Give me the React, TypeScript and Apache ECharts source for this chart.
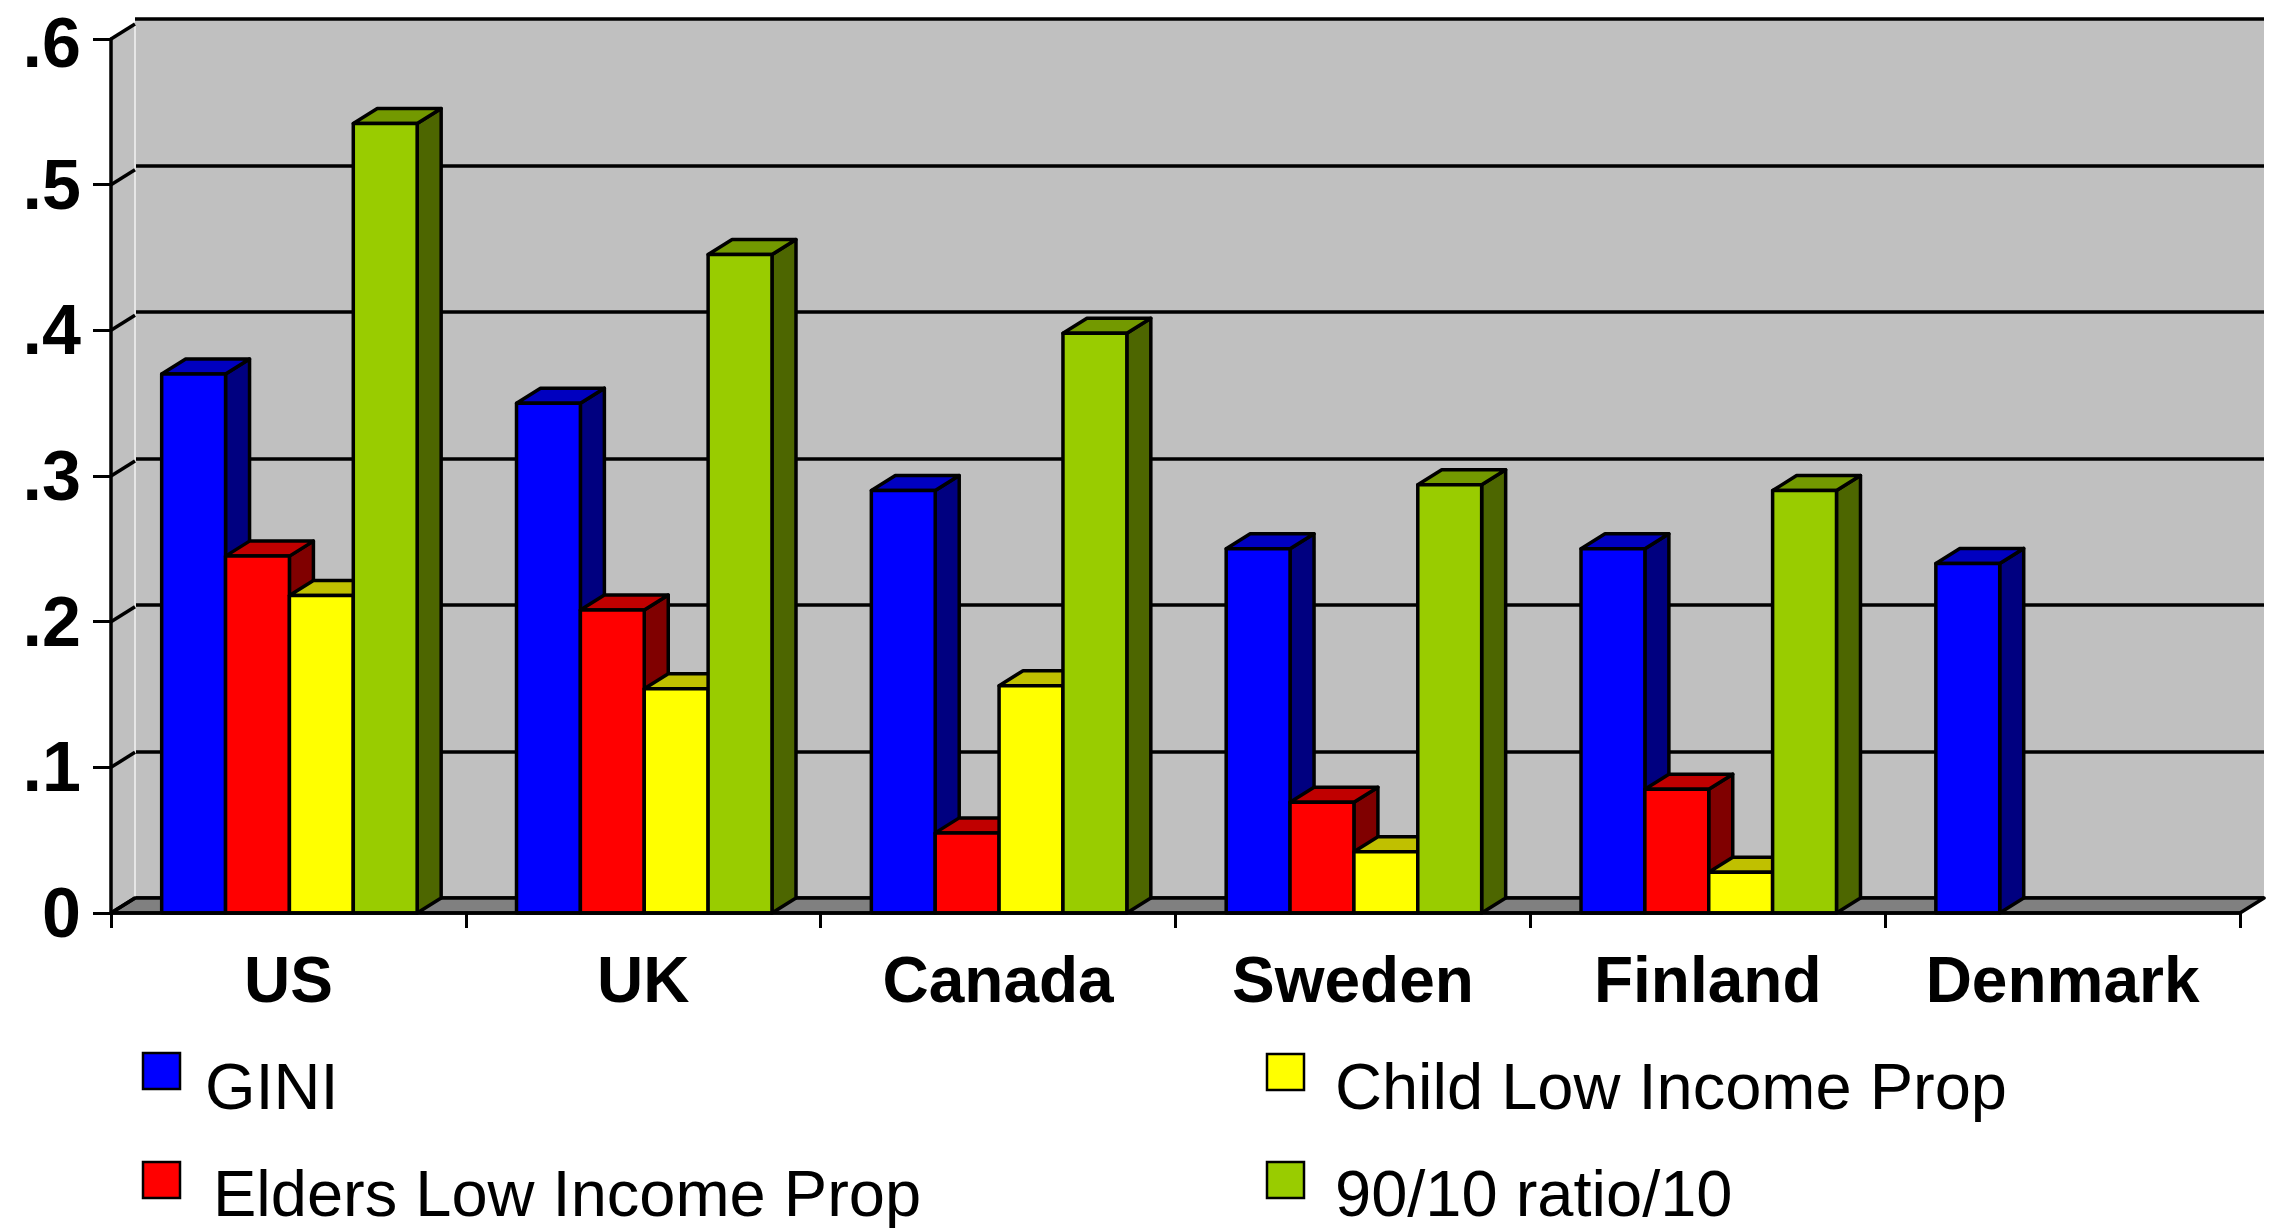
import React, { useEffect, useRef } from "react";
import * as echarts from "echarts";

// Countries on the category axis
const countries = ["US", "UK", "Canada", "Sweden", "Finland", "Denmark"];

// Series values (null = not available)
const gini = [0.37, 0.35, 0.29, 0.25, 0.25, 0.24];
const eldersLowIncome = [0.245, 0.208, 0.055, 0.076, 0.085, null];
const childLowIncome = [0.218, 0.154, 0.156, 0.042, 0.028, null];
const ratio9010 = [0.542, 0.452, 0.398, 0.294, 0.29, null];

const seriesNames = [
  "GINI",
  "Elders Low Income Prop",
  "Child Low Income Prop",
  "90/10 ratio/10",
];
const seriesValues = [gini, eldersLowIncome, childLowIncome, ratio9010];

// Value axis ticks and their labels
const yTicks = [0, 0.1, 0.2, 0.3, 0.4, 0.5, 0.6];
const yTickLabels = ["0", ".1", ".2", ".3", ".4", ".5", ".6"];

// Face shading for each series: front, top, side
const faceColors = [
  { front: "#0000FF", top: "#0000C0", side: "#000080" },
  { front: "#FF0000", top: "#C00000", side: "#800000" },
  { front: "#FFFF00", top: "#C0C000", side: "#808000" },
  { front: "#99CC00", top: "#739900", side: "#4D6600" },
];

// Pseudo-3D depth offset in pixels
const DX = 24;
const DY = -15;
const FONT = '"Liberation Sans", Arial, Helvetica, sans-serif';
const EDGE = { stroke: "#000000", lineWidth: 3.5, lineJoin: "round" as const };

function barRenderer(k: number) {
  return (params: any, api: any) => {
    const v = api.value(1);
    if (v == null || isNaN(v)) return null;
    const cat = api.value(0);
    const base = api.coord([cat, 0]);
    const top = api.coord([cat, v]);
    const bw = api.size([1, 0])[0] * 0.18;
    const x0 = base[0] - 2 * bw + k * bw + 1;
    const x1 = x0 + bw;
    const yb = base[1];
    const yt = top[1];
    const c = faceColors[k];
    return {
      type: "group",
      children: [
        {
          type: "polygon",
          shape: { points: [[x1, yt], [x1 + DX, yt + DY], [x1 + DX, yb + DY], [x1, yb]] },
          style: { fill: c.side, ...EDGE },
        },
        {
          type: "polygon",
          shape: { points: [[x0, yt], [x0 + DX, yt + DY], [x1 + DX, yt + DY], [x1, yt]] },
          style: { fill: c.top, ...EDGE },
        },
        {
          type: "rect",
          shape: { x: x0, y: yt, width: bw, height: yb - yt },
          style: { fill: c.front, ...EDGE },
        },
      ],
    };
  };
}

// Side wall, floor and the diagonal links from front ticks to back gridlines
function frameRenderer(params: any, api: any) {
  const cs = params.coordSys;
  const gx = cs.x;
  const gy = cs.y;
  const gw = cs.width;
  const gh = cs.height;
  const yb = gy + gh;
  const t = api.value(0);
  const y = api.coord([0, t])[1];
  const children: any[] = [];
  if (params.dataIndex === 0) {
    children.push({
      type: "polygon",
      shape: { points: [[gx, yb], [gx, gy], [gx + DX, gy + DY], [gx + DX, yb + DY]] },
      style: { fill: "#C0C0C0", stroke: "none" },
    });
    children.push({
      type: "line",
      shape: { x1: gx + DX, y1: gy + DY, x2: gx + DX, y2: yb + DY },
      style: { stroke: "#E6E6E6", lineWidth: 2 },
    });
    children.push({
      type: "polygon",
      shape: { points: [[gx, yb], [gx + gw, yb], [gx + gw + DX, yb + DY], [gx + DX, yb + DY]] },
      style: { fill: "#808080", ...EDGE },
    });
  }
  children.push({
    type: "line",
    shape: { x1: gx, y1: y, x2: gx + DX, y2: y + DY },
    style: { stroke: "#000000", lineWidth: 3.5 },
  });
  return { type: "group", children };
}

function legendItem(k: number, left: number, top: number, textX: number, textY: number) {
  return [
    {
      type: "rect",
      shape: { x: left, y: top, width: 37, height: 36 },
      style: { fill: faceColors[k].front, stroke: "#000000", lineWidth: 2.5 },
      z: 20,
    },
    {
      type: "text",
      x: textX,
      y: textY,
      style: {
        text: seriesNames[k],
        fontSize: 65,
        lineHeight: 56,
        fontFamily: FONT,
        fill: "#000000",
        verticalAlign: "middle",
        align: "left",
      },
      z: 20,
    },
  ];
}

export default function App() {
  const ref = useRef<HTMLDivElement>(null);

  useEffect(() => {
    if (!ref.current) return;
    const chart = echarts.init(ref.current, undefined, { renderer: "svg" });

    const yLabelStyle = {
      color: "#000000",
      fontSize: 70,
      lineHeight: 54,
      fontWeight: "bold",
      fontFamily: FONT,
    };

    const option: any = {
      animation: false,
      backgroundColor: "#FFFFFF",
      grid: [
        // front plane
        { left: 111, right: 29, top: 34, bottom: 315 },
        // back wall
        {
          left: 111 + DX,
          right: 29 - DX,
          top: 34 + DY,
          bottom: 315 - DY,
          show: true,
          backgroundColor: "#C0C0C0",
          borderWidth: 0,
          z: 0,
        },
      ],
      xAxis: [
        {
          type: "category",
          gridIndex: 0,
          data: countries,
          boundaryGap: true,
          z: 10,
          axisLine: { show: true, lineStyle: { color: "#000000", width: 3.5 } },
          axisTick: { show: true, length: 15, interval: 0, lineStyle: { color: "#000000", width: 3 } },
          axisLabel: {
            interval: 0,
            margin: 35,
            color: "#000000",
            fontSize: 64,
            fontWeight: "bold",
            fontFamily: FONT,
          },
          splitLine: { show: false },
        },
        {
          type: "category",
          gridIndex: 1,
          data: countries,
          show: false,
        },
      ],
      yAxis: [
        {
          type: "value",
          gridIndex: 0,
          min: 0,
          max: 0.6,
          interval: 0.1,
          z: 10,
          axisLine: { show: true, lineStyle: { color: "#000000", width: 3.5 } },
          axisTick: { show: true, length: 18, lineStyle: { color: "#000000", width: 3 } },
          axisLabel: {
            margin: 30,
            ...yLabelStyle,
            rich: {
              top: { ...yLabelStyle, padding: [8, 0, 0, 0] },
            },
            formatter: (v: number) => {
              const i = yTicks.findIndex((t) => Math.abs(t - v) < 1e-9);
              if (i < 0) return "";
              return i === yTicks.length - 1 ? `{top|${yTickLabels[i]}}` : yTickLabels[i];
            },
          },
          splitLine: { show: false },
        },
        {
          type: "value",
          gridIndex: 1,
          min: 0,
          max: 0.6,
          interval: 0.1,
          z: 0,
          axisLine: { show: false },
          axisTick: { show: false },
          axisLabel: { show: false },
          splitLine: { show: true, lineStyle: { color: "#000000", width: 3.5 } },
        },
      ],
      series: [
        {
          type: "custom",
          name: "frame",
          xAxisIndex: 0,
          yAxisIndex: 0,
          z: 1,
          silent: true,
          renderItem: frameRenderer,
          data: yTicks.map((t) => [t]),
          encode: { y: 0 },
        },
        ...seriesValues.map((vals, k) => ({
          type: "custom",
          name: seriesNames[k],
          xAxisIndex: 0,
          yAxisIndex: 0,
          z: 3,
          itemStyle: { color: faceColors[k].front },
          renderItem: barRenderer(k),
          data: vals
            .map((v, i) => [i, v])
            .filter((d) => d[1] !== null),
          encode: { x: 0, y: 1 },
        })),
      ],
      graphic: [
        ...legendItem(0, 143, 1053, 205, 1086),
        ...legendItem(1, 143, 1162, 213, 1193),
        ...legendItem(2, 1267, 1054, 1335, 1086),
        ...legendItem(3, 1267, 1162, 1335, 1193),
      ],
    };

    chart.setOption(option);
    return () => chart.dispose();
  }, []);

  return (
    <div
      ref={ref}
      style={{ position: "fixed", left: 0, top: 0, width: 2269, height: 1228, background: "#FFFFFF" }}
    />
  );
}
